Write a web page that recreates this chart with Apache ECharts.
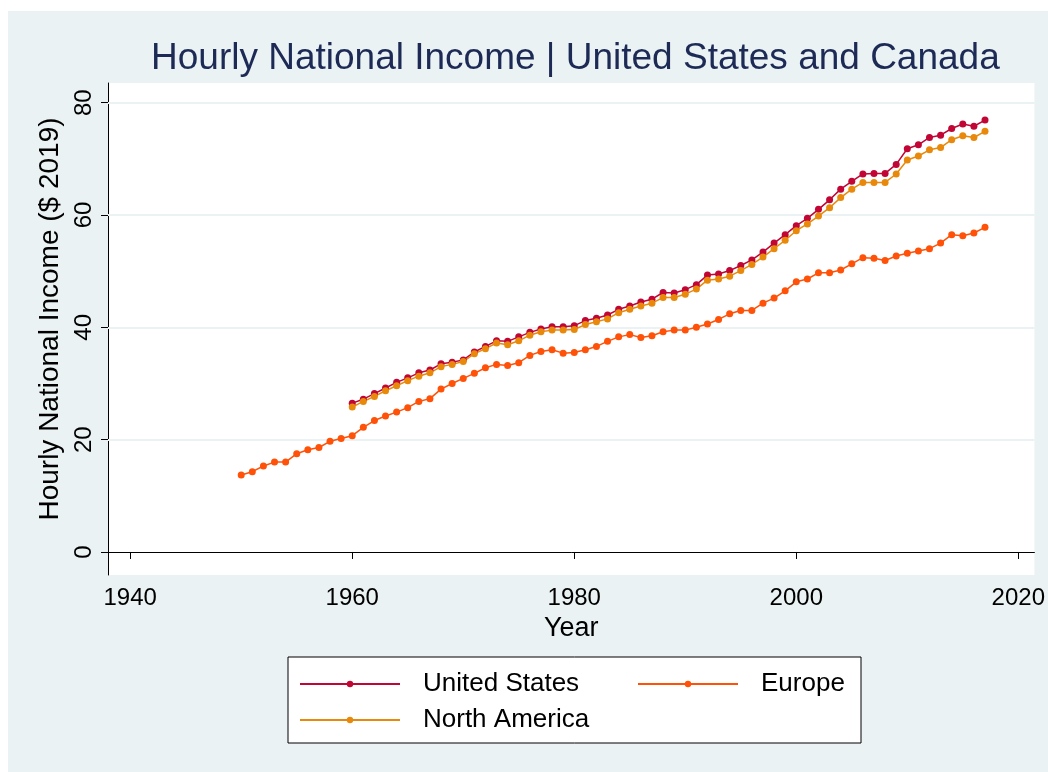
<!DOCTYPE html>
<html>
<head>
<meta charset="utf-8">
<script src="https://cdn.jsdelivr.net/npm/echarts@6/dist/echarts.min.js"></script>
<style>
  html, body { margin: 0; padding: 0; background: #fff; }
  #chart { position: absolute; left: 8px; top: 11px; width: 1040px; height: 761px; }
</style>
</head>
<body>
<div id="chart"></div>
<script>
// first year of each series
const usStart = 1960
const naStart = 1960
const euStart = 1950

// hourly national income, $ 2019
const usValues = [26.5, 27.2, 28.2, 29.2, 30.2, 31.0, 31.9, 32.4, 33.5, 33.8,
  34.2, 35.6, 36.6, 37.6, 37.5, 38.3, 39.1, 39.7, 40.1, 40.1,
  40.3, 41.2, 41.6, 42.2, 43.2, 43.8, 44.5, 45.0, 46.2, 46.1,
  46.7, 47.6, 49.3, 49.5, 50.1, 51.0, 52.0, 53.4, 55.0, 56.5,
  58.1, 59.4, 61.0, 62.7, 64.6, 66.0, 67.3, 67.4, 67.4, 69.0,
  71.8, 72.5, 73.8, 74.2, 75.4, 76.2, 75.8, 76.9]

const naValues = [25.8, 26.8, 27.7, 28.7, 29.6, 30.5, 31.3, 31.9, 33.0, 33.4,
  33.9, 35.3, 36.2, 37.2, 36.9, 37.6, 38.6, 39.2, 39.5, 39.5,
  39.6, 40.5, 41.0, 41.5, 42.6, 43.2, 43.8, 44.3, 45.3, 45.3,
  45.9, 46.8, 48.4, 48.6, 49.1, 50.1, 51.2, 52.5, 54.0, 55.5,
  57.2, 58.4, 59.8, 61.3, 63.1, 64.6, 65.8, 65.8, 65.8, 67.3,
  69.8, 70.5, 71.6, 72.0, 73.4, 74.1, 73.8, 74.9]

const euValues = [13.7, 14.3, 15.3, 16.0, 16.0, 17.5, 18.2, 18.6, 19.7, 20.2,
  20.7, 22.2, 23.4, 24.2, 24.9, 25.7, 26.8, 27.3, 29.0, 30.0,
  30.9, 31.8, 32.8, 33.4, 33.2, 33.7, 35.0, 35.7, 36.0, 35.4,
  35.5, 36.0, 36.6, 37.5, 38.3, 38.7, 38.2, 38.5, 39.2, 39.5,
  39.5, 40.0, 40.6, 41.4, 42.4, 43.0, 43.0, 44.3, 45.2, 46.5,
  48.1, 48.6, 49.7, 49.7, 50.2, 51.3, 52.4, 52.3, 51.9, 52.7,
  53.2, 53.6, 54.0, 55.0, 56.5, 56.3, 56.8, 57.8]

const xTicks = [1940, 1960, 1980, 2000, 2020]
const yTicks = [0, 20, 40, 60, 80]
const gridLines = [20, 40, 60, 80]

const toPairs = (start, values) => values.map((v, i) => [start + i, v])

const font = 'Liberation Sans, Arial, sans-serif'
const bg = '#EAF2F3'

const lineSeries = (name, color, data) => ({
  name: name,
  type: 'line',
  data: data,
  symbol: 'circle',
  symbolSize: 7,
  lineStyle: { color: color, width: 1.5 },
  itemStyle: { color: color },
  z: 3
})

const chart = echarts.init(document.getElementById('chart'))

const option = {
  backgroundColor: bg,
  animation: false,
  textStyle: { fontFamily: font },
  title: {
    text: 'Hourly National Income | United States and Canada',
    left: 138,
    top: 24,
    textStyle: { fontSize: 37, fontWeight: 'normal', color: '#1C2A55', fontFamily: font }
  },
  grid: {
    left: 100, top: 72, width: 928, height: 492,
    show: true, backgroundColor: '#fff', borderWidth: 0
  },
  graphic: [{
    type: 'rect',
    shape: { x: 280, y: 646, width: 573, height: 86 },
    style: { fill: '#fff', stroke: '#000', lineWidth: 1 },
    z: 0
  }],
  legend: [
    { data: ['United States'], left: 286, top: 653 },
    { data: ['Europe'], left: 624, top: 653 },
    { data: ['North America'], left: 286, top: 689 }
  ].map(l => Object.assign(l, {
    itemWidth: 100,
    itemHeight: 8,
    textStyle: { fontSize: 26, color: '#000', fontFamily: font, padding: [0, 0, 0, 18], lineHeight: 30 }
  })),
  xAxis: {
    type: 'value',
    min: 1938,
    max: 2021.45,
    name: 'Year',
    nameLocation: 'middle',
    nameGap: 40,
    nameTextStyle: { fontSize: 27, color: '#000' },
    axisLine: { show: true, lineStyle: { color: '#000', width: 1 } },
    axisTick: { show: true, length: 7, customValues: xTicks, lineStyle: { color: '#000' } },
    axisLabel: { customValues: xTicks, fontSize: 24, color: '#000', margin: 11, formatter: v => String(v) },
    splitLine: { show: false }
  },
  yAxis: {
    type: 'value',
    min: -4.1,
    max: 83.5,
    name: 'Hourly National Income ($ 2019)',
    nameLocation: 'middle',
    nameGap: 43,
    nameTextStyle: { fontSize: 28, color: '#000', padding: [0, 0, 0, 20] },
    axisLine: { show: true, lineStyle: { color: '#000', width: 1 } },
    axisTick: { show: true, length: 7, customValues: yTicks, lineStyle: { color: '#000' } },
    axisLabel: { customValues: yTicks, fontSize: 24, color: '#000', rotate: 90, margin: 12 },
    splitLine: { show: false }
  },
  series: [
    {
      name: 'grid',
      type: 'line',
      data: [],
      silent: true,
      z: 1,
      markLine: {
        silent: true,
        z: 1,
        symbol: 'none',
        label: { show: false },
        lineStyle: { color: bg, width: 2, type: 'solid' },
        data: gridLines.map(v => ({ yAxis: v }))
      }
    },
    lineSeries('United States', '#C10534', toPairs(usStart, usValues)),
    lineSeries('Europe', '#FF5208', toPairs(euStart, euValues)),
    lineSeries('North America', '#E8890C', toPairs(naStart, naValues))
  ]
}

chart.setOption(option)
</script>
</body>
</html>
